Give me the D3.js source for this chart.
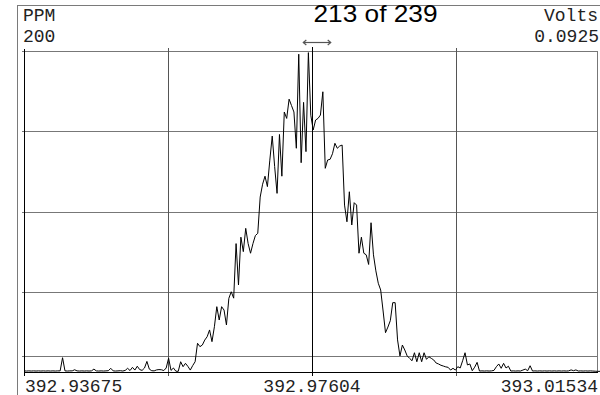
<!DOCTYPE html>
<html>
<head>
<meta charset="utf-8">
<script src="https://cdn.jsdelivr.net/npm/d3@7"></script>
<style>
  html, body { margin: 0; padding: 0; background: #fff; }
  svg { display: block; }
  .mono { font-family: "Courier New", "Liberation Mono", monospace; font-size: 18px; fill: #222; }
</style>
</head>
<body>
<svg id="chart" width="600" height="395"></svg>
<script>
// Spectrum window (wavelength, nm) and cursor
const wavelengthStart = 392.93675;
const wavelengthEnd = 393.01534;
const cursorWavelength = 392.97604;
const bandWavelengths = [392.97486, 392.97860];

// Frame counter shown in the title
const frameIndex = 213;
const frameCount = 239;

// Axis annotations
const leftUnit = "PPM";
const leftMax = 200;
const rightUnit = "Volts";
const rightMax = "0.0925";
const xTickLabels = ["392.93675", "392.97604", "393.01534"];
const yGridValues = [10, 50, 100, 150, 200];
const xGridWavelengths = [392.956395, 392.97604, 392.995685];

// Intensity samples (PPM), evenly spaced across the window
const ppm = [
  0.7, 0.6, 0.7, 0.6, 0.7, 0.6, 0.7, 0.6, 0.7, 0.6,
  0.7, 0.6, 0.7, 0.6, 0.7, 0.7, 8.9, 0.7, 0.6, 0.7,
  0.7, 1.4, 0.7, 0.6, 0.7, 0.6, 0.7, 0.6, 0.7, 1.8,
  0.7, 0.6, 0.7, 0.6, 0.7, 0.8, 2.3, 0.7, 0.6, 0.7,
  0.8, 0.6, 1.0, 2.3, 0.9, 2.9, 1.2, 3.6, 1.5, 1.0,
  2.5, 6.6, 1.8, 0.8, 0.7, 1.3, 1.5, 1.4, 0.9, 2.5,
  8.6, 1.0, 2.5, 0.5, 0.4, 6.4, 3.3, 5.4, 3.5, 1.2,
  4.0, 6.4, 17.9, 15.8, 16.8, 19.9, 22.0, 26.2, 18.9, 28.2,
  40.7, 32.4, 40.7, 38.6, 29.3, 45.9, 50.0, 46.0, 80.0, 54.2,
  84.0, 75.0, 89.5, 80.0, 74.0, 80.0, 85.0, 86.4, 109.0, 117.0,
  122.0, 115.5, 132.0, 147.0, 128.0, 111.3, 148.0, 122.0, 162.0, 158.0,
  170.0, 166.0, 162.0, 139.4, 198.0, 130.4, 168.0, 137.3, 199.0, 160.0,
  150.8, 157.0, 158.0, 160.1, 174.6, 126.9, 132.1, 132.5, 136.0, 142.5,
  139.4, 140.8, 141.4, 104.0, 93.6, 112.3, 91.6, 105.5, 104.0, 74.0,
  84.0, 74.0, 73.0, 67.0, 93.0, 73.0, 63.0, 55.3, 51.1, 38.0,
  24.5, 28.0, 32.0, 43.2, 43.2, 20.0, 10.0, 16.8, 13.7, 10.0,
  8.5, 7.0, 12.0, 6.4, 12.0, 6.4, 12.0, 7.9, 9.5, 8.5,
  7.5, 5.6, 5.0, 4.2, 3.7, 3.2, 2.9, 1.2, 2.3, 1.2,
  3.3, 2.5, 7.0, 12.0, 4.4, 5.0, 0.8, 3.0, 6.0, 0.6,
  0.7, 0.6, 0.7, 0.6, 0.7, 1.0, 3.3, 5.0, 2.3, 5.4,
  2.5, 3.6, 0.6, 0.7, 0.6, 0.7, 0.6, 1.2, 1.8, 0.8,
  3.9, 0.6, 0.7, 0.6, 0.7, 0.6, 0.7, 0.6, 0.7, 0.6,
  0.7, 0.6, 0.7, 0.6, 0.7, 0.6, 0.7, 1.3, 0.8, 1.3,
  0.6, 0.7, 0.6, 0.7, 0.6, 0.7, 0.6, 0.5, 0.4, 0.4
];

const svg = d3.select("#chart");

// Plot box
const plot = { left: 24, right: 597, top: 51, bottom: 372 };

const x = d3.scaleLinear()
  .domain([wavelengthStart, wavelengthEnd])
  .range([plot.left, 600]);

const y = d3.scaleLinear()
  .domain([0, leftMax])
  .range([plot.bottom, plot.top]);

const step = (wavelengthEnd - wavelengthStart) / (ppm.length - 1);
const samples = ppm.map((v, i) => ({ wl: wavelengthStart + i * step, v }));

const crisp = v => Math.round(v) + 0.5;

// Outer panel border (top and left)
svg.append("line")
  .attr("x1", 17).attr("x2", 600).attr("y1", 5.5).attr("y2", 5.5)
  .attr("stroke", "#7a7a7a").attr("stroke-width", 1);
svg.append("line")
  .attr("x1", 17.5).attr("x2", 17.5).attr("y1", 5).attr("y2", 395)
  .attr("stroke", "#7a7a7a").attr("stroke-width", 1);

// Horizontal grid lines
svg.append("g").selectAll("line")
  .data(yGridValues)
  .join("line")
  .attr("x1", plot.left - 2).attr("x2", plot.right + 1)
  .attr("y1", d => crisp(y(d))).attr("y2", d => crisp(y(d)))
  .attr("stroke", "#777").attr("stroke-width", 1);

// Vertical grid lines
svg.append("g").selectAll("line")
  .data(xGridWavelengths)
  .join("line")
  .attr("x1", d => crisp(x(d))).attr("x2", d => crisp(x(d)))
  .attr("y1", plot.top - 3).attr("y2", plot.bottom + 4)
  .attr("stroke", "#555").attr("stroke-width", 1);

// Right border
svg.append("line")
  .attr("x1", plot.right + 0.5).attr("x2", plot.right + 0.5)
  .attr("y1", plot.top).attr("y2", plot.bottom)
  .attr("stroke", "#777").attr("stroke-width", 1);

// Spectrum trace
svg.append("path")
  .datum(samples)
  .attr("fill", "none")
  .attr("stroke", "#000")
  .attr("stroke-width", 1)
  .attr("stroke-linejoin", "miter")
  .attr("d", d3.line().x(d => x(d.wl)).y(d => y(d.v)));

// Axes: left and bottom
svg.append("line")
  .attr("x1", plot.left + 0.5).attr("x2", plot.left + 0.5)
  .attr("y1", plot.top - 2).attr("y2", plot.bottom + 4)
  .attr("stroke", "#000").attr("stroke-width", 1);
svg.append("line")
  .attr("x1", plot.left).attr("x2", plot.right + 1)
  .attr("y1", plot.bottom + 0.5).attr("y2", plot.bottom + 0.5)
  .attr("stroke", "#000").attr("stroke-width", 1);

// Cursor line
svg.append("line")
  .attr("x1", crisp(x(cursorWavelength))).attr("x2", crisp(x(cursorWavelength)))
  .attr("y1", plot.top - 4).attr("y2", plot.bottom + 4)
  .attr("stroke", "#000").attr("stroke-width", 1);

// Band marker above the plot
const bx0 = x(bandWavelengths[0]), bx1 = x(bandWavelengths[1]), by = 42.5;
const band = svg.append("g").attr("stroke", "#555").attr("fill", "none").attr("stroke-width", 1.2);
band.append("line").attr("x1", bx0).attr("x2", bx1).attr("y1", by).attr("y2", by);
band.append("path").attr("d", `M${bx0 + 3},${by - 2.5} L${bx0},${by} L${bx0 + 3},${by + 2.5}`);
band.append("path").attr("d", `M${bx1 - 3},${by - 2.5} L${bx1},${by} L${bx1 - 3},${by + 2.5}`);

// Title
svg.append("text")
  .attr("x", 375.5).attr("y", 22)
  .attr("text-anchor", "middle")
  .attr("textLength", 124)
  .attr("lengthAdjust", "spacingAndGlyphs")
  .style("font-family", "Arial, 'Liberation Sans', sans-serif")
  .style("font-size", "24px")
  .style("fill", "#000")
  .text(`${frameIndex} of ${frameCount}`);

// Unit labels
svg.append("text").attr("class", "mono").attr("x", 23).attr("y", 21).text(leftUnit);
svg.append("text").attr("class", "mono").attr("x", 23).attr("y", 42).text(String(leftMax));
svg.append("text").attr("class", "mono").attr("x", 598).attr("y", 21)
  .attr("text-anchor", "end").text(rightUnit);
svg.append("text").attr("class", "mono").attr("x", 599).attr("y", 42)
  .attr("text-anchor", "end").text(rightMax);

// Wavelength labels
const xLabelPos = [
  { x: 25, anchor: "start" },
  { x: x(cursorWavelength), anchor: "middle" },
  { x: 598, anchor: "end" }
];
svg.append("g").selectAll("text")
  .data(xTickLabels)
  .join("text")
  .attr("class", "mono")
  .attr("x", (d, i) => xLabelPos[i].x)
  .attr("y", 391.5)
  .attr("text-anchor", (d, i) => xLabelPos[i].anchor)
  .text(d => d);
</script>
</body>
</html>
